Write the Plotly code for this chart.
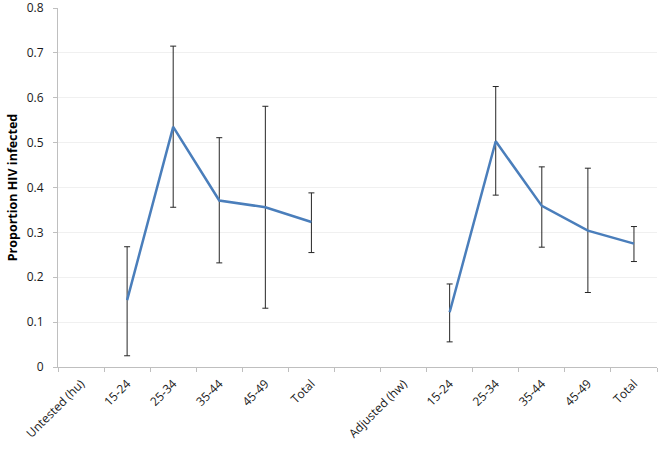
import plotly.graph_objects as go

# Categories along the x axis (blank slot separates the two groups)
categories = ["Untested (hu)", "15-24", "25-34", "35-44", "45-49", "Total", "",
              "Adjusted (hw)", "15-24", "25-34", "35-44", "45-49", "Total"]

# Proportion HIV infected, None where there is no point
proportion = [None, 0.149, 0.535, 0.371, 0.356, 0.323, None,
              None, 0.122, 0.503, 0.359, 0.304, 0.275]
upper = [None, 0.268, 0.715, 0.511, 0.581, 0.388, None,
         None, 0.185, 0.625, 0.446, 0.443, 0.313]
lower = [None, 0.025, 0.356, 0.232, 0.131, 0.255, None,
         None, 0.056, 0.383, 0.267, 0.166, 0.235]
y_ticks = [0, 0.1, 0.2, 0.3, 0.4, 0.5, 0.6, 0.7, 0.8]
y_labels = ["0", "0.1", "0.2", "0.3", "0.4", "0.5", "0.6", "0.7", "0.8"]

x = list(range(len(categories)))
err_plus = [None if p is None else u - p for p, u in zip(proportion, upper)]
err_minus = [None if p is None else p - l for p, l in zip(proportion, lower)]

fig = go.Figure()
fig.add_trace(go.Scatter(
    x=x, y=proportion, mode="lines", connectgaps=False,
    line=dict(color="#4a7ebb", width=2.5),
    error_y=dict(type="data", symmetric=False, array=err_plus, arrayminus=err_minus,
                 color="#262626", thickness=1, width=3),
    showlegend=False,
))

axis_font = dict(family="Open Sans, Liberation Sans, sans-serif", size=12, color="#1a1a1a")

fig.update_layout(
    width=661, height=449,
    margin=dict(l=58, r=4, t=8, b=82),
    plot_bgcolor="white", paper_bgcolor="white",
    font=axis_font,
)
fig.update_xaxes(
    range=[-0.5, len(categories) - 0.5], automargin=False,
    tickvals=x, ticktext=categories, tickangle=-45,
    ticks="", showgrid=False, zeroline=False,
    showline=True, linecolor="#bfbfbf", linewidth=1,
    minor=dict(tick0=-0.5, dtick=1, ticks="outside", ticklen=4, tickcolor="#bfbfbf", showgrid=False),
    tickfont=axis_font, ticklabelstandoff=4,
)
fig.update_yaxes(
    range=[0, 0.8], automargin=False,
    tickvals=y_ticks, ticktext=y_labels, ticklabeloverflow="allow",
    ticks="outside", ticklen=4, tickcolor="#bfbfbf",
    showgrid=True, gridcolor="#f0f0f0", zeroline=False,
    showline=True, linecolor="#bfbfbf", linewidth=1,
    tickfont=axis_font, ticklabelstandoff=7,
    title=dict(text="<b>Proportion HIV infected</b>", font=dict(size=12.5, color="black"), standoff=6),
)

# drop the default page margin so the figure sits at the window's top-left corner
fig.write_html("out.html", config={"displayModeBar": False},
               post_script="document.body.style.margin='0';")
